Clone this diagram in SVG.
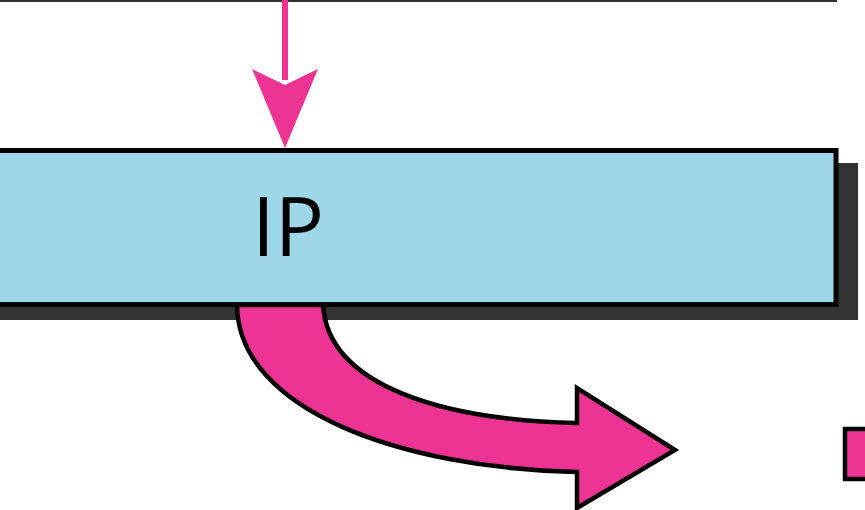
<svg xmlns="http://www.w3.org/2000/svg" width="865" height="510" viewBox="0 0 865 510">
<style>
.pink{fill:#ED3393}
.outl{stroke:#000;stroke-width:4.5;stroke-linejoin:miter}
.lbl{font-family:"Open Sans","Liberation Sans",sans-serif;font-size:82px;fill:#000}
</style>
<rect x="0" y="0" width="865" height="510" fill="#fff"/>
<g id="top-box">
<line x1="0" y1="0.5" x2="837" y2="0.5" stroke="#333" stroke-width="3"/>
</g>
<g id="ip">
<rect x="-10" y="163" width="868" height="157" fill="#333"/>
<rect x="-5" y="150.5" width="841" height="154" fill="#9ED8E8" stroke="#000" stroke-width="5"/>
<text class="lbl" x="288" y="256" text-anchor="middle">IP</text>
</g>
<g id="out-square">
<rect x="845" y="429" width="30" height="50" class="pink outl"/>
</g>
<g id="connectors">
<line x1="285" y1="0" x2="285" y2="80" stroke="#ED3393" stroke-width="6"/>
<polygon points="252,69 285,85 318,69 285,148" class="pink"/>
<path d="M237,305 C238,410 400,468 577,472 L577,508 L675,450 L577,388 L577,423 C440,420 328,385 323,305 Z" class="pink outl"/>
</g>
</svg>
